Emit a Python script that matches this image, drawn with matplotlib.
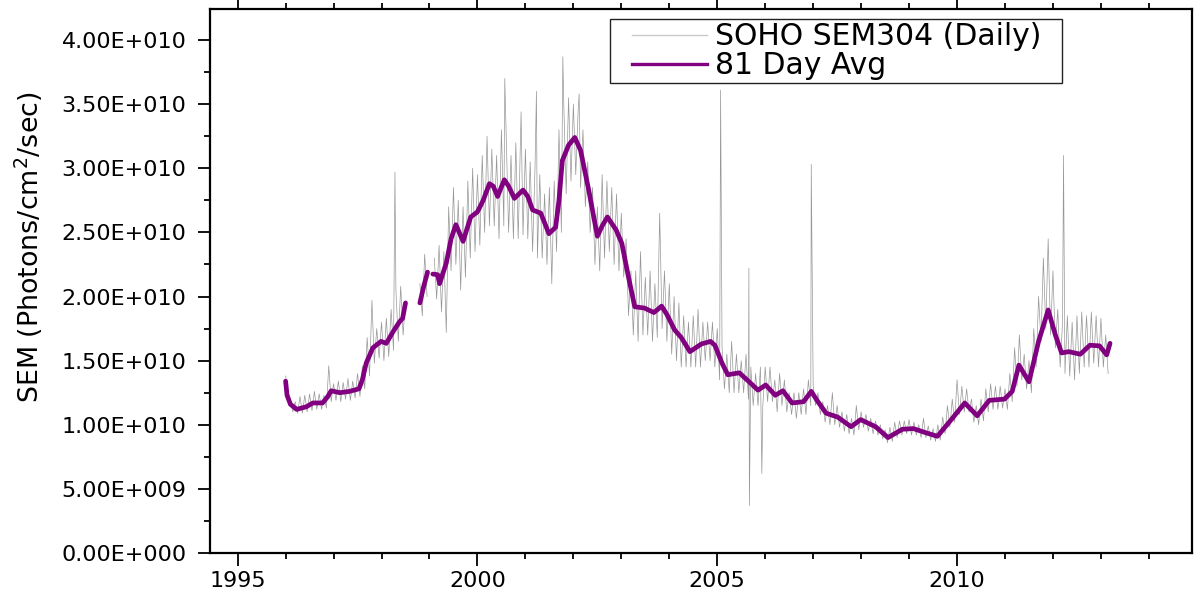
import numpy as np
import matplotlib
matplotlib.use("Agg")
import matplotlib.pyplot as plt
from matplotlib.ticker import FuncFormatter, MultipleLocator
from matplotlib.lines import Line2D
from matplotlib.patches import Rectangle

UNIT = 1e9  # values below are in units of 1e9 photons/cm^2/sec

# Daily SEM 304 flux: upper / lower swing every 0.1 yr (NaN = no data)
daily_years = np.round(np.arange(1996.0, 2013.15, 0.1), 2)
daily_high = [
    13.8, 12.0, 11.8, 12.2, 12.3, 12.4, 12.6, 12.4, 12.3, 14.6,   # 1996
    13.2, 13.4, 13.3, 13.6, 13.4, 14.0, 14.6, 16.8, 19.7, 17.5,   # 1997
    18.0, 18.3, 19.0, 20.5, 20.8, 19.6, np.nan, np.nan, 21.0, 23.3,  # 1998
    np.nan, 23.0, 24.0, 23.5, 27.0, 28.5, 27.5, 27.0, 29.0, 30.0,  # 1999
    29.5, 31.0, 32.5, 31.5, 31.0, 33.0, 32.5, 31.0, 32.0, 32.5,   # 2000
    31.5, 30.5, 30.0, 29.5, 28.0, 28.5, 29.0, 33.0, 35.0, 35.5,   # 2001
    35.0, 34.5, 33.0, 30.5, 28.5, 27.0, 29.5, 29.0, 28.5, 28.0,   # 2002
    26.5, 24.5, 22.0, 22.0, 23.5, 21.5, 22.0, 21.0, 26.5, 22.0,   # 2003
    21.0, 20.0, 19.5, 18.5, 18.0, 18.5, 19.0, 18.0, 18.0, 18.0,   # 2004
    17.5, 16.0, 15.5, 16.5, 15.5, 15.0, 15.5, 14.5, 14.0, 14.5,   # 2005
    14.5, 14.5, 13.5, 14.0, 13.5, 12.5, 12.5, 12.5, 12.8, 13.5,   # 2006
    13.0, 12.5, 11.8, 11.5, 12.5, 11.5, 11.0, 10.8, 10.5, 11.5,   # 2007
    11.0, 10.8, 10.5, 10.3, 10.0, 9.6, 9.8, 10.2, 10.3, 10.3,     # 2008
    10.4, 10.2, 10.0, 10.5, 9.9, 9.7, 10.0, 10.6, 11.5, 12.0,     # 2009
    13.5, 13.0, 12.8, 12.0, 11.5, 12.0, 12.8, 13.2, 13.0, 13.0,   # 2010
    12.8, 14.0, 16.0, 17.0, 15.5, 15.0, 17.5, 20.0, 23.0, 24.5,   # 2011
    22.0, 19.0, 18.0, 18.5, 18.0, 18.5, 18.8, 18.5, 18.8, 18.5,   # 2012
    18.3, 17.0,                                                   # 2013
]
daily_low = [
    12.5, 11.0, 10.9, 10.9, 11.0, 11.1, 11.2, 11.2, 11.3, 11.8,   # 1996
    11.9, 11.8, 12.0, 11.9, 12.1, 12.2, 12.8, 13.8, 14.8, 15.2,   # 1997
    15.0, 15.3, 15.8, 16.5, 17.0, np.nan, np.nan, np.nan, 18.5, 20.0,  # 1998
    np.nan, 19.8, 18.8, 17.2, 22.0, 22.5, 20.5, 21.5, 23.0, 23.5,  # 1999
    24.0, 25.0, 25.5, 25.5, 24.5, 25.5, 25.0, 24.5, 24.5, 24.8,   # 2000
    24.5, 23.5, 23.0, 23.0, 22.5, 21.0, 23.5, 25.0, 28.0, 29.0,   # 2001
    29.5, 28.5, 27.0, 25.0, 22.5, 22.0, 23.0, 23.5, 22.5, 22.0,   # 2002
    21.5, 18.5, 17.0, 16.5, 17.0, 17.0, 16.5, 16.8, 17.5, 16.5,   # 2003
    15.5, 15.0, 14.5, 14.5, 14.5, 14.5, 14.5, 15.0, 15.0, 14.5,   # 2004
    13.5, 12.8, 12.5, 12.5, 12.5, 12.5, 12.0, 11.5, 11.5, 11.5,   # 2005
    11.8, 11.8, 11.0, 11.5, 11.0, 10.8, 10.5, 10.8, 10.8, 11.5,   # 2006
    11.5, 10.8, 10.2, 10.0, 10.0, 9.8, 9.5, 9.3, 9.2, 9.6,        # 2007
    9.8, 9.5, 9.3, 9.2, 8.9, 8.6, 8.7, 9.0, 9.2, 9.3,             # 2008
    9.2, 9.2, 9.0, 9.0, 8.8, 8.7, 8.8, 9.3, 9.8, 10.2,            # 2009
    10.8, 11.0, 11.0, 10.2, 10.0, 10.3, 11.0, 11.2, 11.2, 11.3,   # 2010
    11.2, 11.8, 13.0, 13.5, 12.8, 12.5, 14.5, 16.5, 17.5, 17.0,   # 2011
    16.0, 14.5, 14.0, 13.8, 13.5, 14.0, 14.5, 14.5, 14.8, 14.5,   # 2012
    14.5, 14.0,                                                   # 2013
]

# Isolated single-day excursions (flares / dropouts)
spike_years = [1998.28, 2000.57, 2000.91, 2001.23, 2001.78, 2002.12,
               2005.07, 2005.66, 2005.67, 2005.93, 2006.96, 2012.22]
spike_values = [29.7, 37.0, 34.4, 36.0, 38.7, 35.8,
                36.1, 22.2, 3.7, 6.2, 30.3, 31.0]

# 81-day running average (NaN marks data gaps)
avg_years = [
    1996.00, 1996.03, 1996.10, 1996.23, 1996.43, 1996.57, 1996.77, 1996.88,
    1996.95, 1997.13, 1997.33, 1997.53, 1997.60, 1997.68, 1997.82, 1997.99,
    1998.10, 1998.24, 1998.37, 1998.44, 1998.50, 1998.65,
    1998.80, 1998.88, 1998.96, 1999.01,
    1999.07, 1999.17, 1999.21, 1999.35, 1999.45, 1999.55, 1999.62, 1999.70,
    1999.86, 2000.00, 2000.12, 2000.25, 2000.33, 2000.42, 2000.56, 2000.65,
    2000.77, 2000.95, 2001.05, 2001.15, 2001.32, 2001.49, 2001.63, 2001.70,
    2001.77, 2001.90, 2002.03, 2002.15, 2002.32, 2002.50, 2002.60, 2002.71,
    2002.89, 2003.01, 2003.15, 2003.28, 2003.48, 2003.68, 2003.84, 2003.95,
    2004.11, 2004.25, 2004.43, 2004.67, 2004.86, 2004.95, 2005.10, 2005.22,
    2005.46, 2005.65, 2005.85, 2006.01, 2006.21, 2006.37, 2006.56, 2006.80,
    2006.96, 2007.08, 2007.27, 2007.51, 2007.79, 2007.99, 2008.30, 2008.56,
    2008.86, 2009.09, 2009.33, 2009.59, 2009.88, 2010.16, 2010.42, 2010.67,
    2010.99, 2011.15, 2011.29, 2011.50, 2011.70, 2011.90, 2012.05, 2012.18,
    2012.33, 2012.57, 2012.77, 2012.97, 2013.12, 2013.19,
]
avg_values = [
    13.4, 12.3, 11.6, 11.2, 11.4, 11.7, 11.7, 12.2,
    12.65, 12.5, 12.6, 12.8, 13.5, 14.8, 16.0, 16.5,
    16.35, 17.25, 18.0, 18.3, 19.5, np.nan,
    19.5, 20.8, 21.9, np.nan,
    21.75, 21.7, 21.0, 22.6, 24.5, 25.6, 25.0, 24.3,
    26.2, 26.6, 27.5, 28.8, 28.6, 27.8, 29.1, 28.6,
    27.65, 28.3, 27.8, 26.75, 26.5, 24.9, 25.4, 27.5,
    30.6, 31.8, 32.4, 31.4, 28.3, 24.7, 25.5, 26.2,
    25.2, 24.15, 21.5, 19.2, 19.1, 18.75, 19.25, 18.6,
    17.4, 16.8, 15.7, 16.3, 16.5, 16.2, 14.8, 13.9,
    14.05, 13.4, 12.7, 13.1, 12.3, 12.65, 11.7, 11.8,
    12.6, 11.9, 10.9, 10.6, 9.85, 10.4, 9.85, 9.0,
    9.65, 9.7, 9.4, 9.1, 10.4, 11.7, 10.7, 11.9,
    12.0, 12.6, 14.65, 13.35, 16.5, 18.95, 17.0, 15.6,
    15.7, 15.5, 16.2, 16.15, 15.45, 16.35,
]

x_ticks = [1995, 2000, 2005, 2010]
y_ticks = [0, 5, 10, 15, 20, 25, 30, 35, 40]
series_labels = ["SOHO SEM304 (Daily)", "81 Day Avg"]

# Assemble the daily trace as an up/down sequence and merge single-day spikes
t = np.concatenate([daily_years, daily_years + 0.05, spike_years])
v = np.concatenate([daily_high, daily_low, spike_values])
order = np.argsort(t, kind="stable")
t, v = t[order], v[order]

fig = plt.figure(figsize=(11.96, 5.91), dpi=100)
ax = fig.add_axes([0.1756, 0.0643, 0.8211, 0.9205])

ax.plot(t, v * UNIT, color="#979797", lw=0.5)
ax.plot(avg_years, np.array(avg_values) * UNIT, color="#800080", lw=3.4,
        solid_capstyle="round", solid_joinstyle="round")

ax.set_xlim(1994.424, 2014.90)
ax.set_ylim(0, 42.42 * UNIT)

ax.set_xticks(x_ticks)
ax.set_yticks(np.array(y_ticks) * UNIT)
ax.xaxis.set_minor_locator(MultipleLocator(1))
ax.yaxis.set_minor_locator(MultipleLocator(2.5 * UNIT))


def sci_label(val, pos):
    if val == 0:
        return "0.00E+000"
    exp = int(np.floor(np.log10(abs(val)) + 1e-9))
    mant = val / 10 ** exp
    return f"{mant:.2f}E{'+' if exp >= 0 else '-'}{abs(exp):03d}"


ax.yaxis.set_major_formatter(FuncFormatter(sci_label))

for side in ax.spines.values():
    side.set_linewidth(1.6)
    side.set_color("black")

ax.tick_params(axis="both", which="both", direction="out", width=1.3,
               colors="black", labelsize=16)
ax.tick_params(axis="both", which="major", length=9)
ax.tick_params(axis="both", which="minor", length=4.5)
ax.tick_params(axis="x", which="both", top=True, labeltop=False, pad=4)
ax.tick_params(axis="y", which="both", right=False, pad=8)

ax.set_ylabel("SEM (Photons/cm$^2$/sec)", fontsize=19.4)
ax.yaxis.set_label_coords(-0.168, 0.5616)

# Legend with a square black frame
ax.add_patch(Rectangle((0.4073, 0.864), 0.4603, 0.1176, transform=ax.transAxes,
                       fill=True, facecolor="white", edgecolor="#222222",
                       lw=1.0, zorder=4))
handles = [Line2D([], [], color="#c8c8c8", lw=1.0),
           Line2D([], [], color="#800080", lw=2.4)]
leg = ax.legend(handles, series_labels, loc="upper left",
                bbox_to_anchor=(0.4297, 0.9760), borderaxespad=0, borderpad=0,
                frameon=False, fontsize=21.5, handlelength=2.5,
                handletextpad=0.27, labelspacing=0.0)
leg.set_zorder(5)

fig.savefig("out.png", dpi=100, facecolor="white")
